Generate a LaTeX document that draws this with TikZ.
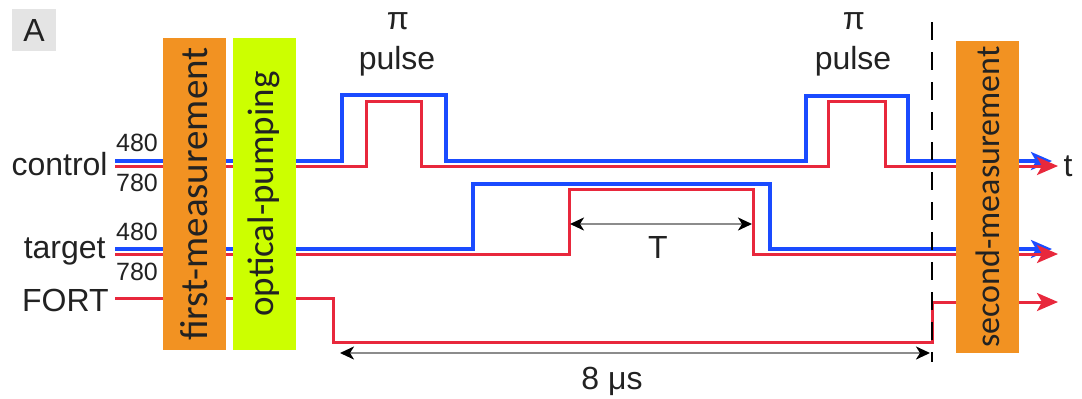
\documentclass[tikz,border=0pt]{standalone}
\usepackage{fontspec}
\setmainfont{Liberation Sans}
\newfontfamily\boxfont{Carlito}
\usetikzlibrary{arrows.meta,positioning}
\definecolor{SigBlue}{HTML}{1A4BFF}
\definecolor{SigRed}{HTML}{E8283C}
\definecolor{MeasOrange}{HTML}{F29222}
\definecolor{PumpGreen}{HTML}{CCFF00}
\definecolor{TagGray}{HTML}{E4E4E4}
\definecolor{DimGray}{HTML}{8C8C8C}
\definecolor{Ink}{HTML}{222222}
\tikzset{
  stagebox/.style={rotate=90,minimum width=156pt,minimum height=31.5pt,inner sep=0pt,
              font=\boxfont\fontsize{18.5}{20}\selectfont,text=Ink},
  bluesig/.style={draw=SigBlue,line width=1.6pt},
  redsig/.style={draw=SigRed,line width=1.5pt},
  sigarrow/.style={-{Stealth[length=10.5pt,width=9pt,inset=2.5pt]}},
  dimarrow/.style={{Stealth[length=7pt,width=6.5pt,inset=2pt,color=black]}-{Stealth[length=7pt,width=6.5pt,inset=2pt,color=black]},
              draw=DimGray,line width=1.1pt},
  chan/.style={font=\fontsize{16}{18}\selectfont,text=Ink,anchor=east,inner sep=0pt},
  wave/.style={font=\fontsize{12.5}{14}\selectfont,text=Ink,inner sep=0pt},
  note/.style={font=\fontsize{16}{18}\selectfont,text=Ink,inner sep=0pt}
}

\begin{document}
\begin{tikzpicture}[x=0.5pt,y=-0.5pt]
  \useasboundingbox (0,0) rectangle (1082,398);

  \node[fill=TagGray,minimum width=22pt,minimum height=21pt,inner sep=0pt,
        font=\fontsize{16}{18}\selectfont,text=Ink] (tag) at (34,30) {A};

  % channel names and wavelengths
  \node[chan] (control) at (108,164) {control};
  \node[chan] (target) at (106,251) {target};
  \node[chan] (fort) at (109,300) {FORT};
  \node[wave] (ctrlblue) at (137,143) {480};
  \node[wave] (ctrlred) at (137,183) {780};
  \node[wave] (tgtblue) at (137,232) {480};
  \node[wave] (tgtred) at (137,272) {780};

  % pulse sequences
  \draw[bluesig,sigarrow] (115,161) -- (342,161) -- (342,95) -- (446,95) -- (446,161)
        -- (806,161) -- (806,96) -- (908,96) -- (908,161) -- (1052,161);
  \draw[redsig,sigarrow] (115,166) -- (366,166) -- (366,101) -- (421,101) -- (421,166)
        -- (828,166) -- (828,101) -- (885,101) -- (885,166) -- (1058,166);
  \draw[bluesig,sigarrow] (115,249) -- (473,249) -- (473,184) -- (770,184) -- (770,249) -- (1052,249);
  \draw[redsig,sigarrow] (115,254) -- (569,254) -- (569,189) -- (753,189) -- (753,254) -- (1058,254);
  \draw[redsig,sigarrow] (115,298) -- (333,298) -- (333,342) -- (932,342) -- (932,302) -- (1058,302);
  \node[note] (tlabel) at (1068,166) {t};

  \node[note] (pione) at (398,21) {π};
  \node[note] (pulseone) at (397,61) {pulse};
  \node[note] (pitwo) at (854,21) {π};
  \node[note] (pulsetwo) at (853,61) {pulse};

  % timing marks
  \coordinate (waitL) at (570,224);
  \coordinate (waitR) at (752,224);
  \draw[dimarrow] (waitL) -- (waitR);
  \node[note] (wait) at (658,247) {T};

  \coordinate (fortL) at (340,353);
  \coordinate (fortR) at (930,353);
  \draw[dimarrow] (fortL) -- (fortR);
  \node[note] (gap) at (612,381) {8 μs};

  \coordinate (markTop) at (932,22);
  \coordinate (markBot) at (932,362);
  \draw[black,line width=0.9pt,dash pattern=on 9pt off 6pt] (markTop) -- (markBot);

  % stages
  \node[stagebox,fill=MeasOrange,font=\boxfont\fontsize{19.5}{20}\selectfont] (first) at (194,194) {first-measurement};
  \node[stagebox,fill=PumpGreen] (pump) at (264,194) {optical-pumping};
  \node[stagebox,fill=MeasOrange,font=\boxfont\fontsize{17}{20}\selectfont] (second) at (987.5,197) {second-measurement};
\end{tikzpicture}
\end{document}
